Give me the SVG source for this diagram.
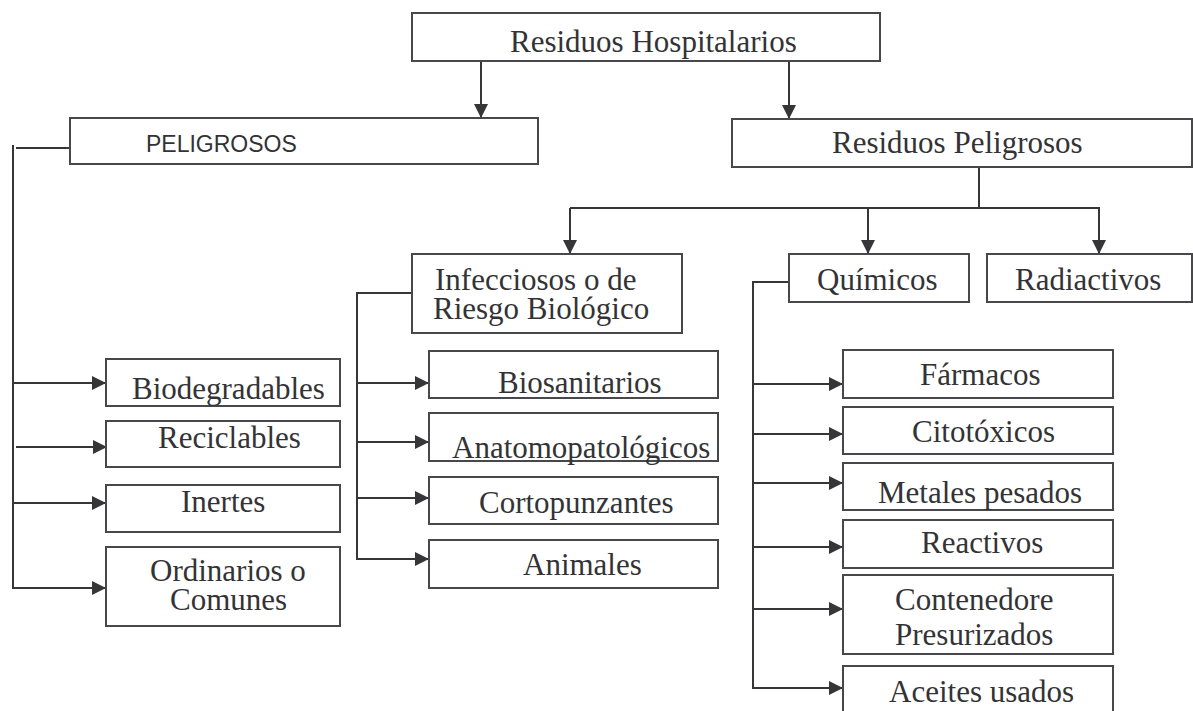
<svg xmlns="http://www.w3.org/2000/svg" width="1193" height="711" viewBox="0 0 1193 711">
<defs>
<marker id="ah" viewBox="0 0 14 14" refX="14" refY="7" markerWidth="14" markerHeight="14" markerUnits="userSpaceOnUse" orient="auto">
<path d="M0,0 L14,7 L0,14 z" fill="#363639"/>
</marker>
<style>
.box{fill:#fff;stroke:#48484c;stroke-width:2}
.t{font-family:"Liberation Serif","Times New Roman",serif;font-size:31px;fill:#333336}
.s{font-family:"Liberation Sans",Arial,sans-serif;font-size:23px;fill:#333336}
.c{fill:none;stroke:#363639;stroke-width:2}
.a{fill:none;stroke:#363639;stroke-width:2;marker-end:url(#ah)}
</style>
</defs>
<rect width="1193" height="711" fill="#fff"/>
<g id="connectors">
<line class="a" x1="481" y1="61" x2="481" y2="118"/>
<line class="a" x1="789" y1="61" x2="789" y2="119"/>
<polyline class="c" points="70,148 16,148"/>
<line class="c" x1="13" y1="145" x2="13" y2="589"/>
<line class="a" x1="13" y1="383" x2="106" y2="383"/>
<line class="a" x1="16" y1="447" x2="107" y2="447"/>
<line class="a" x1="13" y1="503" x2="106" y2="503"/>
<polyline class="a" points="13,588 106,588"/>
<line class="c" x1="979" y1="167" x2="979" y2="208"/>
<line class="c" x1="570" y1="208" x2="1100" y2="208"/>
<line class="a" x1="570" y1="208" x2="570" y2="254"/>
<line class="a" x1="868" y1="208" x2="868" y2="254"/>
<line class="a" x1="1099" y1="208" x2="1099" y2="254"/>
<polyline class="c" points="412,293 357,293 357,560"/>
<line class="a" x1="357" y1="383" x2="429" y2="383"/>
<line class="a" x1="357" y1="442" x2="429" y2="442"/>
<line class="a" x1="357" y1="498" x2="429" y2="498"/>
<line class="a" x1="356" y1="559" x2="429" y2="559"/>
<polyline class="c" points="789,282 753,282 753,689"/>
<line class="a" x1="753" y1="384" x2="843" y2="384"/>
<line class="a" x1="753" y1="434" x2="843" y2="434"/>
<line class="a" x1="753" y1="483" x2="843" y2="483"/>
<line class="a" x1="753" y1="547" x2="843" y2="547"/>
<line class="a" x1="753" y1="609" x2="843" y2="609"/>
<line class="a" x1="752" y1="688" x2="843" y2="688"/>
</g>
<g id="n-hospitalarios"><rect class="box" x="412" y="13" width="468" height="48"/><text class="t" x="510" y="52">Residuos Hospitalarios</text></g>
<g id="n-peligrosos-left"><rect class="box" x="70" y="118" width="468" height="46"/><text class="s" x="146" y="152">PELIGROSOS</text></g>
<g id="n-residuos-peligrosos"><rect class="box" x="732" y="119" width="460" height="48"/><text class="t" x="832" y="153">Residuos Peligrosos</text></g>
<g id="n-infecciosos"><rect class="box" x="412" y="254" width="270" height="79"/><text class="t"><tspan x="435" y="290">Infecciosos o de</tspan><tspan x="433" y="319">Riesgo Biológico</tspan></text></g>
<g id="n-quimicos"><rect class="box" x="789" y="254" width="180" height="48"/><text class="t" x="817" y="290">Químicos</text></g>
<g id="n-radiactivos"><rect class="box" x="987" y="254" width="205" height="48"/><text class="t" x="1015" y="290">Radiactivos</text></g>
<g id="n-biodegradables"><rect class="box" x="106" y="359" width="234" height="47"/><text class="t" x="132" y="399">Biodegradables</text></g>
<g id="n-reciclables"><rect class="box" x="106" y="421" width="234" height="46"/><text class="t" x="158" y="448">Reciclables</text></g>
<g id="n-inertes"><rect class="box" x="106" y="485" width="234" height="47"/><text class="t" x="181" y="512">Inertes</text></g>
<g id="n-ordinarios"><rect class="box" x="106" y="547" width="234" height="79"/><text class="t"><tspan x="150" y="581">Ordinarios o</tspan><tspan x="170" y="610">Comunes</tspan></text></g>
<g id="n-biosanitarios"><rect class="box" x="429" y="351" width="289" height="47"/><text class="t" x="498" y="393">Biosanitarios</text></g>
<g id="n-anatomopatologicos"><rect class="box" x="429" y="413" width="289" height="48"/><text class="t" x="452" y="458">Anatomopatológicos</text></g>
<g id="n-cortopunzantes"><rect class="box" x="429" y="477" width="289" height="47"/><text class="t" x="479" y="513">Cortopunzantes</text></g>
<g id="n-animales"><rect class="box" x="429" y="540" width="289" height="48"/><text class="t" x="523" y="575">Animales</text></g>
<g id="n-farmacos"><rect class="box" x="843" y="350" width="270" height="48"/><text class="t" x="920" y="385">Fármacos</text></g>
<g id="n-citotoxicos"><rect class="box" x="843" y="407" width="270" height="47"/><text class="t" x="912" y="442">Citotóxicos</text></g>
<g id="n-metales"><rect class="box" x="843" y="463" width="270" height="47"/><text class="t" x="878" y="503">Metales pesados</text></g>
<g id="n-reactivos"><rect class="box" x="843" y="520" width="270" height="48"/><text class="t" x="921" y="553">Reactivos</text></g>
<g id="n-contenedore"><rect class="box" x="843" y="575" width="270" height="79"/><text class="t"><tspan x="895" y="610">Contenedore</tspan><tspan x="895" y="645">Presurizados</tspan></text></g>
<g id="n-aceites"><rect class="box" x="843" y="666" width="270" height="60"/><text class="t" x="889" y="702">Aceites usados</text></g>
</svg>
